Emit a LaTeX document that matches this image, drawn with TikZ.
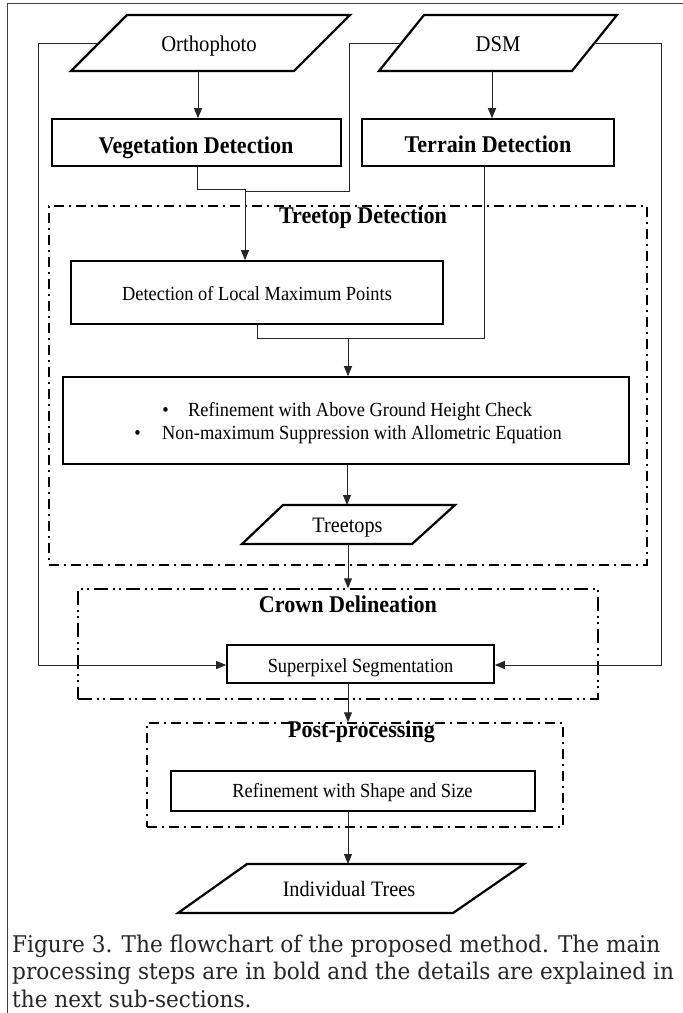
\documentclass[tikz,border=0pt]{standalone}
\usepackage{fontspec}
\setmainfont{Liberation Serif}
\newfontfamily\df[FakeStretch=0.92]{Liberation Serif}
\newfontfamily\capfont[FakeStretch=0.94]{DejaVu Serif}
\usetikzlibrary{arrows.meta}
\begin{document}
\begin{tikzpicture}[x=1pt,y=-1pt,
  io/.style={draw=black, line width=2.2pt, line join=miter},
  box/.style={draw=black, line width=1.6pt, inner sep=0pt},
  tb/.style={anchor=base, inner sep=0pt, font=\df\fontsize{24}{28}\selectfont\bfseries},
  tr/.style={anchor=base, inner sep=0pt, font=\df\fontsize{22.5}{26}\selectfont},
  ts/.style={anchor=base, inner sep=0pt, font=\df\fontsize{20}{24}\selectfont},
  con/.style={draw=black!85, line width=1pt},
  arr/.style={con, -{Triangle[length=10pt,width=8pt]}},
  grpA/.style={draw=black, line width=1.5pt, inner sep=0pt, dash pattern=on 10pt off 5pt on 2pt off 5pt},
  grpB/.style={draw=black, line width=1.5pt, inner sep=0pt, dash pattern=on 14pt off 5pt on 2pt off 4pt on 2pt off 5pt},
  captext/.style={anchor=base west, inner sep=0pt, text=black!85, font=\capfont\fontsize{23}{27}\selectfont}
]
\useasboundingbox (0,0) rectangle (683,1013);
\fill[white] (0,0) rectangle (683,1013);
% outer frame
\draw[draw=black!75, line width=1pt] (7,1013) -- (7,3) -- (683,3);

% group boxes
\node[grpA, minimum width=598pt, minimum height=359pt] (tdbox) at (348,385.5) {};
\node[grpB, minimum width=520pt, minimum height=110pt] (cdbox) at (338,644) {};
\node[grpA, minimum width=416pt, minimum height=104pt] (ppbox) at (355,775) {};

% input parallelograms
\draw[io] (127,15) -- (350,15) -- (294,71) -- (71,71) -- cycle;
\node[tr] (ortho) at (209,51) {Orthophoto};
\draw[io] (424,15) -- (617,15) -- (572,71) -- (379,71) -- cycle;
\node[tr] (dsm) at (498,51) {DSM};

\coordinate (orthoB) at (198,71);
\coordinate (orthoL) at (99,43);
\coordinate (dsmB) at (492,71);
\coordinate (dsmL) at (401,43);
\coordinate (dsmR) at (594,43);

% main boxes
\node[box, minimum width=289pt, minimum height=47pt] (veg) at (196.5,142.5) {};
\node[tb] (vegt) at (196,153) {Vegetation Detection};
\node[box, minimum width=252pt, minimum height=47pt] (ter) at (488,142.5) {};
\node[tb] (tert) at (488,152) {Terrain Detection};

\node[tb] (tdt) at (363,223) {Treetop Detection};
\node[box, minimum width=372pt, minimum height=63pt] (lmp) at (257,292.5) {};
\node[ts] (lmpt) at (257,300) {Detection of Local Maximum Points};

\node[box, minimum width=566pt, minimum height=87pt] (ref) at (346,420.5) {};
\node[ts] (b1) at (165.5,416) {\textbullet};
\node[ts, anchor=base west] (r1) at (188,416) {Refinement with Above Ground Height Check};
\node[ts] (b2) at (137.5,439) {\textbullet};
\node[ts, anchor=base west] (r2) at (162,439) {Non-maximum Suppression with Allometric Equation};

\draw[io] (283,505) -- (455,505) -- (412,544) -- (242,544) -- cycle;
\node[tr, font=\df\fontsize{22}{26}\selectfont] (tops) at (347.5,532) {Treetops};
\coordinate (topsT) at (347,505);
\coordinate (topsB) at (348,544);

\node[tb] (cdt) at (348,612) {Crown Delineation};
\node[box, minimum width=267pt, minimum height=38pt] (sp) at (360.5,664) {};
\node[ts] (spt) at (360.5,672) {Superpixel Segmentation};

\node[tb] (ppt) at (361.5,737) {Post-processing};
\node[box, minimum width=364pt, minimum height=40pt] (rss) at (353,791) {};
\node[ts] (rsst) at (352.5,797) {Refinement with Shape and Size};

\draw[io] (247,864) -- (524,864) -- (453,913) -- (178,913) -- cycle;
\node[tr, font=\df\fontsize{22}{26}\selectfont] (ind) at (349,896) {Individual Trees};
\coordinate (indT) at (348,864);

% connectors
\draw[arr] (orthoB) -- (orthoB |- veg.north);
\draw[arr] (dsmB) -- (dsmB |- ter.north);
\draw[arr] (orthoL) -- (38,43) -- (38,665) -- (sp.west |- 0,665);
\draw[arr] (dsmR) -- (661,43) -- (661,665) -- (sp.east |- 0,665);
\draw[con] (dsmL) -- (349,43) -- (349,191) -- (245,191);
\draw[arr] (197,0 |- veg.south) -- (197,189) -- (245,189) -- (245,0 |- lmp.north);
\draw[con] (257,0 |- lmp.south) -- (257,338) -- (484,338) -- (484,0 |- ter.south);
\draw[arr] (348,338) -- (348,0 |- ref.north);
\draw[arr] (347,0 |- ref.south) -- (topsT);
\draw[arr] (topsB) -- (348,0 |- cdbox.north);
\draw[arr] (348,0 |- sp.south) -- (348,0 |- ppbox.north);
\draw[arr] (348,0 |- rss.south) -- (indT);

% caption
\node[captext] (c1) at (12,952) {Figure 3. The flowchart of the proposed method. The main};
\node[captext] (c2) at (12,979) {processing steps are in bold and the details are explained in};
\node[captext] (c3) at (12,1007) {the next sub-sections.};
\end{tikzpicture}
\end{document}
